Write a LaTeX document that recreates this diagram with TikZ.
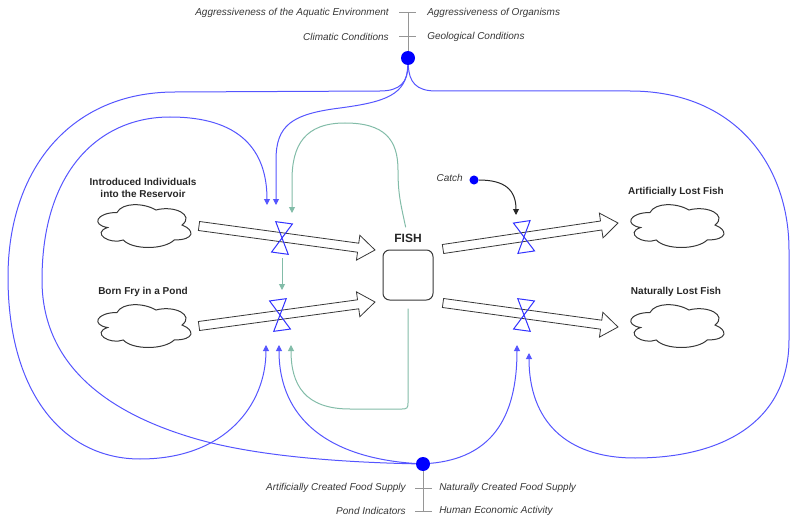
\documentclass[tikz,border=0pt]{standalone}
\usepackage{fontspec}
\setmainfont{Liberation Sans}
\usetikzlibrary{arrows.meta, calc, positioning}

\definecolor{linkblue}{RGB}{85,85,255}
\definecolor{valveblue}{RGB}{50,50,255}
\definecolor{loopgreen}{RGB}{130,188,168}
\definecolor{tickgray}{RGB}{150,150,150}
\definecolor{inkgray}{RGB}{55,55,55}

\tikzset{
	link/.style={linkblue, line width=0.75pt, -{Triangle[length=4.5pt,width=4.5pt]}},
	catchlink/.style={black!85, line width=0.75pt, -{Triangle[length=4.5pt,width=4.5pt]}},
	fblink/.style={loopgreen, line width=0.75pt, -{Triangle[length=4.5pt,width=4.5pt]}},
	factor/.style={font=\fontsize{7.5}{9}\selectfont\itshape, text=inkgray, inner sep=0pt},
	boldlbl/.style={font=\fontsize{7.5}{8.4}\selectfont\bfseries, text=black!85, inner sep=0pt, align=center},
	stock/.style={draw=inkgray, rounded corners=5pt, minimum size=37.5pt, line width=0.75pt, inner sep=0pt},
	pipeline/.style={draw=inkgray, fill=white, line width=0.6pt, line join=miter},
	valveline/.style={draw=valveblue, line width=0.75pt, line join=miter},
	dot/.style={circle, fill=blue, inner sep=0pt, minimum size=10.5pt},
	smalldot/.style={circle, fill=blue, inner sep=0pt, minimum size=6.8pt},
	tick/.style={tickgray, line width=0.75pt},
	cloudpic/.pic={
		\draw[draw=inkgray, line width=0.75pt, xscale=104, yscale=50]
			(-0.25,-0.25) .. controls (-0.45,-0.25) and (-0.5,0) .. (-0.34,0.05)
			.. controls (-0.5,0.16) and (-0.32,0.4) .. (-0.19,0.3)
			.. controls (-0.1,0.5) and (0.2,0.5) .. (0.3,0.3)
			.. controls (0.5,0.3) and (0.5,0.1) .. (0.375,0)
			.. controls (0.5,-0.2) and (0.3,-0.4) .. (0.125,-0.3)
			.. controls (0,-0.45) and (-0.2,-0.45) .. (-0.25,-0.25) -- cycle;
	},
	valve/.pic={
		\draw[valveline] (-6.3pt,-11.5pt) -- (6.3pt,-11.5pt) -- (-6.3pt,11.5pt) -- (6.3pt,11.5pt) -- cycle;
	}
}

% flow pipe from #1 to #2
\newcommand{\pipe}[2]{%
	\coordinate (hb) at ($(#2)!12.75pt!(#1)$);
	\draw[pipeline] ($(#1)!3.4pt!90:(#2)$) -- ($(hb)!3.4pt!90:(#2)$) -- ($(hb)!9.4pt!90:(#2)$) -- (#2)
		-- ($(hb)!9.4pt!-90:(#2)$) -- ($(hb)!3.4pt!-90:(#2)$) -- ($(#1)!3.4pt!-90:(#2)$) -- cycle;
}

\begin{document}
\begin{tikzpicture}[x=0.75pt, y=-0.75pt]
	\useasboundingbox (0,0) rectangle (790,517);

	% clouds and their labels
	\foreach \cx/\cy in {143/225, 143/325, 676/225, 676/325} {
		\pic at (\cx,\cy) {cloudpic};
	}
	\node[boldlbl] (introlbl) at (143,188) {Introduced Individuals\\into the Reservoir};
	\node[boldlbl] (frylbl) at (143,292) {Born Fry in a Pond};
	\node[boldlbl] (artlbl) at (676,192) {Artificially Lost Fish};
	\node[boldlbl] (natlbl) at (676,292) {Naturally Lost Fish};

	% stock
	\node[stock] (fish) at (408,275) {};
	\node[boldlbl, font=\fontsize{9}{10}\selectfont\bfseries, above=5pt of fish] (fishlbl) {FISH};

	% pipes
	\coordinate (in1s) at (199,226);  \coordinate (in1e) at (375,250);
	\coordinate (in2s) at (199,326);  \coordinate (in2e) at (375,302);
	\coordinate (out1s) at (443,249); \coordinate (out1e) at (618,223);
	\coordinate (out2s) at (443,303); \coordinate (out2e) at (618,327);
	\pipe{in1s}{in1e}
	\pipe{in2s}{in2e}
	\pipe{out1s}{out1e}
	\pipe{out2s}{out2e}

	% valves
	\coordinate (v1) at (282,238);
	\coordinate (v2) at (280,315);
	\coordinate (v3) at (524,237);
	\coordinate (v4) at (524,315);
	\pic[rotate=-7.8] at (v1) {valve};
	\pic[rotate=7.8] at (v2) {valve};
	\pic[rotate=8.4] at (v3) {valve};
	\pic[rotate=-7.8] at (v4) {valve};

	% link ends at the valves
	\coordinate (v1a) at (267,205); \coordinate (v1b) at (276,205); \coordinate (v1g) at (292,213);
	\coordinate (v2t) at (282,290);
	\coordinate (v2a) at (266,345); \coordinate (v2b) at (279,345); \coordinate (v2g) at (291,345);
	\coordinate (v3a) at (516,215);
	\coordinate (v4a) at (517,345); \coordinate (v4b) at (529,353);

	% top factors
	\node[dot] (topdot) at (408,58) {};
	\coordinate (topend) at (408,13);
	\draw[tick] (topdot) -- (topend);
	\draw[tick] (399,13) -- (416,13);
	\draw[tick] (399,37) -- (416,37);
	\node[factor, anchor=east] (aggenv) at (389,13) {Aggressiveness of the Aquatic Environment};
	\node[factor, anchor=west] (aggorg) at (427,13) {Aggressiveness of Organisms};
	\node[factor, anchor=east] (climate) at (389,37) {Climatic Conditions};
	\node[factor, anchor=west] (geology) at (427,37) {Geological Conditions};

	% bottom factors
	\node[dot] (botdot) at (423,464) {};
	\coordinate (botend) at (423,511);
	\draw[tick] (botdot) -- (botend);
	\draw[tick] (415,488) -- (432,488);
	\draw[tick] (415,511) -- (432,511);
	\node[factor, anchor=east] (artfood) at (406,488) {Artificially Created Food Supply};
	\node[factor, anchor=west] (natfood) at (439,488) {Naturally Created Food Supply};
	\node[factor, anchor=east] (pond) at (406,511) {Pond Indicators};
	\node[factor, anchor=west] (econ) at (439,511) {Human Economic Activity};

	% catch
	\node[smalldot] (catchdot) at (474,180) {};
	\node[factor, anchor=east] (catchlbl) at (463,178) {Catch};
	\draw[catchlink] (catchdot) .. controls (505,180) and (516,190) .. (v3a);

	% links from the top dot
	\draw[link] (topdot) .. controls (408,82) and (400,91) .. (380,91) -- (175,92)
		.. controls (70,92) and (8,170) .. (8,277) .. controls (8,395) and (65,459) .. (140,459)
		.. controls (225,459) and (266,405) .. (v2a);
	\draw[link] (topdot) .. controls (407,95) and (385,102) .. (340,108)
		.. controls (292,114) and (276,125) .. (276,160) -- (v1b);
	\draw[link] (topdot) .. controls (409,82) and (416,91) .. (436,91) -- (630,91)
		.. controls (735,91) and (789,165) .. (789,250) -- (789,340)
		.. controls (789,420) and (725,458) .. (635,458) .. controls (565,458) and (529,420) .. (v4b);

	% links from the bottom dot
	\draw[link] (botdot) .. controls (330,462) and (255,455) .. (200,440)
		.. controls (100,412) and (42,360) .. (42,280) .. controls (42,170) and (100,117) .. (170,117)
		.. controls (240,117) and (267,150) .. (v1a);
	\draw[link] (botdot) .. controls (330,458) and (279,420) .. (v2b);
	\draw[link] (botdot) .. controls (490,458) and (517,420) .. (v4a);

	% feedback from the stock
	\draw[fblink, shorten <=5pt] (fishlbl) .. controls (401,205) and (398,195) .. (398,170)
		.. controls (398,140) and (385,123) .. (345,123) .. controls (305,123) and (292,145) .. (292,180) -- (v1g);
	\draw[fblink, shorten <=15pt] (v1) -- (v2t);
	\draw[fblink, shorten <=6pt] (fish.south) -- (408,403) .. controls (408,408) and (407,409) .. (402,409)
		-- (350,409) .. controls (305,409) and (291,385) .. (v2g);
\end{tikzpicture}
\end{document}
